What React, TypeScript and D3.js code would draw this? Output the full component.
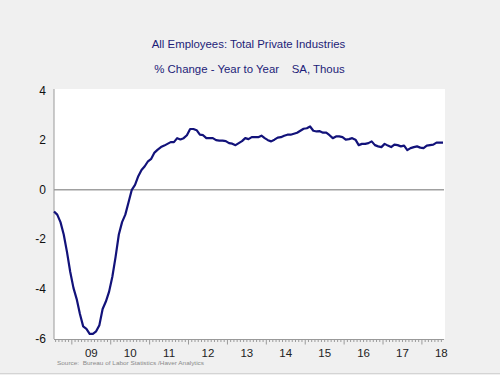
import * as d3 from "d3";

// monthly YoY % change, Jul 2008 .. Jul 2018
const START_YEAR = 2008;
const START_MONTH = 6; // July (0-based)
const values = [
  -0.87, -1.0, -1.3, -1.8, -2.5, -3.3, -3.95, -4.4, -5.0, -5.5, -5.6, -5.8,
  -5.8, -5.7, -5.45, -4.8, -4.5, -4.1, -3.5, -2.7, -1.8, -1.3, -1.0, -0.5,
  0.0, 0.2, 0.55, 0.8, 0.95, 1.15, 1.25, 1.5, 1.62, 1.72, 1.78, 1.85,
  1.92, 1.92, 2.08, 2.03, 2.08, 2.2, 2.45, 2.45, 2.4, 2.22, 2.2, 2.08,
  2.08, 2.08, 2.0, 1.98, 1.98, 1.96, 1.88, 1.86, 1.8, 1.88, 1.96, 2.08,
  2.04, 2.12, 2.12, 2.12, 2.18, 2.08, 2.0, 1.95, 2.02, 2.1, 2.12, 2.18,
  2.22, 2.22, 2.26, 2.3, 2.38, 2.46, 2.48, 2.55, 2.38, 2.35, 2.36, 2.3,
  2.3, 2.2, 2.08, 2.15, 2.15, 2.12, 2.02, 2.04, 2.08, 2.02, 1.8, 1.85,
  1.85, 1.88, 1.95, 1.8, 1.75, 1.72, 1.85, 1.78, 1.72, 1.82, 1.8, 1.75,
  1.78, 1.6, 1.68, 1.72, 1.75, 1.7, 1.68, 1.78, 1.8, 1.82, 1.9, 1.9,
  1.9,
];
const yearLabels = ["09", "10", "11", "12", "13", "14", "15", "16", "17", "18"];
const yTicks = [4, 2, 0, -2, -4, -6];

const W = 500, H = 375;
const plot = { left: 54, right: 444, top: 89, bottom: 339 };

export default function App() {
  const data = values.map((v, i) => ({ t: START_YEAR + (START_MONTH + i + 0.5) / 12, v }));
  const x = d3.scaleLinear().domain([data[0].t, data[0].t + 10.026]).range([plot.left, plot.right]);
  const y = d3.scaleLinear().domain([-6, 4]).range([338.8, 90.5]);

  const line = d3.line<{ t: number; v: number }>().x(d => x(d.t)).y(d => y(d.v));

  // monthly ticks from Aug 2008 to Jul 2018
  const monthTicks: { t: number; major: boolean }[] = [];
  for (let m = START_MONTH + 1; m <= START_MONTH + 120; m++) {
    monthTicks.push({ t: START_YEAR + m / 12, major: m % 12 === 0 });
  }

  const font = "Arial, 'Liberation Sans', sans-serif";
  return (
    <svg width={W} height={H} style={{ position: "absolute", left: 0, top: 0, fontFamily: font }}>
      <rect x={0} y={0} width={W} height={H} fill="#f0f0f0" />
      <line x1={0} x2={W} y1={373.5} y2={373.5} stroke="#d4d4d4" />
      <rect x={plot.left} y={plot.top} width={445 - plot.left} height={plot.bottom - plot.top} fill="#ffffff" />

      <text x={248.5} y={48} textAnchor="middle" fontSize={11.4} fill="#1c1c78">All Employees: Total Private Industries</text>
      <text x={249.5} y={73} textAnchor="middle" fontSize={11.4} fill="#1c1c78" style={{ whiteSpace: "pre" }}>
        {"% Change - Year to Year    SA, Thous"}
      </text>

      {/* zero line */}
      <line x1={plot.left} x2={plot.right} y1={y(0)} y2={y(0)} stroke="#a0a0a0" strokeWidth={1.5} />

      {/* axes */}
      <line x1={plot.left} x2={plot.left} y1={plot.top} y2={plot.bottom} stroke="#9a9a9a" />
      <line x1={plot.left} x2={plot.right} y1={plot.bottom + 0.5} y2={plot.bottom + 0.5} stroke="#9a9a9a" />
      {monthTicks.map((d, i) => (
        <line key={i} x1={x(d.t)} x2={x(d.t)} y1={plot.bottom + 0.5} y2={plot.bottom + (d.major ? 5.5 : 3)}
          stroke="#9a9a9a" strokeWidth={1} />
      ))}

      {yTicks.map(v => (
        <text key={v} x={46} y={y(v) + 4} textAnchor="end" fontSize={12} fill="#111">{v}</text>
      ))}
      {yearLabels.map((lab, i) => (
        <text key={lab} x={x(2009.5 + i)} y={356.5} textAnchor="middle" fontSize={11.5} fill="#222">{lab}</text>
      ))}

      <path d={line(data) ?? ""} fill="none" stroke="#12127a" strokeWidth={2.2} strokeLinejoin="round" />

      <text x={57} y={365} fontSize={6} fill="#8a8a8a" textLength={147} lengthAdjust="spacingAndGlyphs"
        style={{ whiteSpace: "pre" }}>
        {"Source:  Bureau of Labor Statistics /Haver Analytics"}
      </text>
    </svg>
  );
}
